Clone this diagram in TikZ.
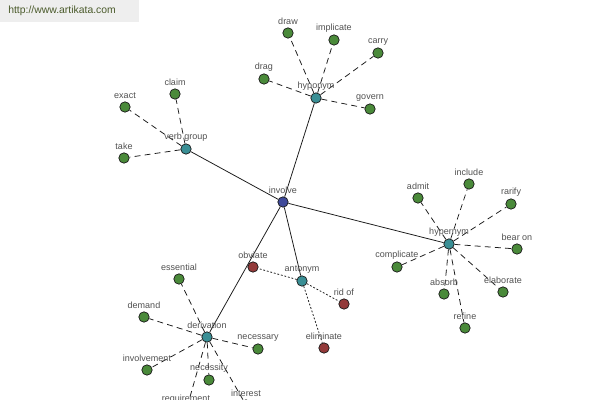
\documentclass[tikz,border=0pt]{standalone}
\usepackage{fontspec}
\setmainfont{Liberation Sans}
\usetikzlibrary{backgrounds}
\definecolor{ink}{HTML}{1A1A1A}
\definecolor{labelgray}{HTML}{505050}
\definecolor{hubblue}{HTML}{3F4A9A}
\definecolor{relteal}{HTML}{3A8F95}
\definecolor{leafgreen}{HTML}{4A8A3A}
\definecolor{antired}{HTML}{933A3A}
\definecolor{olive}{HTML}{4A5A2A}
\definecolor{bannerbg}{HTML}{EEEEEE}
\tikzset{
  every node/.style={font=\fontsize{6.4}{7}\selectfont,text=labelgray},
  word/.style={circle,draw=ink,line width=0.5pt,minimum size=0.26cm,inner sep=0pt},
  hub/.style={word,fill=hubblue},
  rel/.style={word,fill=relteal},
  leaf/.style={word,fill=leafgreen},
  anti/.style={word,fill=antired},
  lbl/.style={text=labelgray,inner sep=1.5pt},
  solidedge/.style={draw=ink,line width=0.55pt},
  dashedge/.style={draw=ink,line width=0.55pt,dash pattern=on 4.2pt off 3pt},
  dotedge/.style={draw=ink,line width=0.55pt,dash pattern=on 1.3pt off 1.3pt}
}
\begin{document}
\begin{tikzpicture}[x=0.025cm,y=-0.025cm]
  \useasboundingbox (0,0) rectangle (600,400);
  \clip (0,0) rectangle (600,400);
  % banner
  \fill[bannerbg] (0,0) rectangle (139,22);
  \node[anchor=west,text=olive,font=\fontsize{7.4}{8}\selectfont,inner sep=0pt] (site) at (8,11) {http://www.artikata.com};

  % centre and relations
  \node[hub,label={[lbl]above:involve}] (involve) at (283,202) {};
  \node[rel,label={[lbl]above:verb group}] (verbgroup) at (186,149) {};
  \node[rel,label={[lbl]above:hyponym}] (hyponym) at (316,98) {};
  \node[rel,label={[lbl]above:hypernym}] (hypernym) at (449,244) {};
  \node[rel,label={[lbl]above:antonym}] (antonym) at (302,281) {};
  \node[rel,label={[lbl]above:derivation}] (derivation) at (207,337) {};

  % verb group
  \node[leaf,label={[lbl]above:claim}] (claim) at (175,94) {};
  \node[leaf,label={[lbl]above:exact}] (exact) at (125,107) {};
  \node[leaf,label={[lbl]above:take}] (take) at (124,158) {};

  % hyponym
  \node[leaf,label={[lbl]above:draw}] (drawn) at (288,33) {};
  \node[leaf,label={[lbl]above:implicate}] (implicate) at (334,40) {};
  \node[leaf,label={[lbl]above:carry}] (carry) at (378,53) {};
  \node[leaf,label={[lbl]above:drag}] (drag) at (264,79) {};
  \node[leaf,label={[lbl]above:govern}] (govern) at (370,109) {};

  % hypernym
  \node[leaf,label={[lbl]above:admit}] (admit) at (418,198) {};
  \node[leaf,label={[lbl]above:include}] (include) at (469,184) {};
  \node[leaf,label={[lbl]above:rarify}] (rarify) at (511,204) {};
  \node[leaf,label={[lbl]above:bear on}] (bearon) at (517,249) {};
  \node[leaf,label={[lbl]above:elaborate}] (elaborate) at (503,292) {};
  \node[leaf,label={[lbl]above:refine}] (refine) at (465,328) {};
  \node[leaf,label={[lbl]above:absorb}] (absorb) at (444,294) {};
  \node[leaf,label={[lbl]above:complicate}] (complicate) at (397,267) {};

  % antonym
  \node[anti,label={[lbl]above:obviate}] (obviate) at (253,267) {};
  \node[anti,label={[lbl]above:rid of}] (ridof) at (344,304) {};
  \node[anti,label={[lbl]above:eliminate}] (eliminate) at (324,348) {};

  % derivation
  \node[leaf,label={[lbl]above:essential}] (essential) at (179,279) {};
  \node[leaf,label={[lbl]above:demand}] (demand) at (144,317) {};
  \node[leaf,label={[lbl]above:necessary}] (necessary) at (258,349) {};
  \node[leaf,label={[lbl]above:involvement}] (involvement) at (147,370) {};
  \node[leaf,label={[lbl]above:necessity}] (necessity) at (209,380) {};
  \node[leaf,label={[lbl]above:requirement}] (requirement) at (186,411) {};
  \node[leaf,label={[lbl]above:interest}] (interest) at (246,405) {};

  \begin{scope}[on background layer]
    \draw[solidedge] (involve)--(verbgroup);
    \draw[solidedge] (involve)--(hyponym);
    \draw[solidedge] (involve)--(hypernym);
    \draw[solidedge] (involve)--(antonym);
    \draw[solidedge] (involve)--(derivation);

    \draw[dashedge] (verbgroup)--(claim);
    \draw[dashedge] (verbgroup)--(exact);
    \draw[dashedge] (verbgroup)--(take);

    \draw[dashedge] (hyponym)--(drawn);
    \draw[dashedge] (hyponym)--(implicate);
    \draw[dashedge] (hyponym)--(carry);
    \draw[dashedge] (hyponym)--(drag);
    \draw[dashedge] (hyponym)--(govern);

    \draw[dashedge] (hypernym)--(admit);
    \draw[dashedge] (hypernym)--(include);
    \draw[dashedge] (hypernym)--(rarify);
    \draw[dashedge] (hypernym)--(bearon);
    \draw[dashedge] (hypernym)--(elaborate);
    \draw[dashedge] (hypernym)--(refine);
    \draw[dashedge] (hypernym)--(absorb);
    \draw[dashedge] (hypernym)--(complicate);

    \draw[dotedge] (antonym)--(obviate);
    \draw[dotedge] (antonym)--(ridof);
    \draw[dotedge] (antonym)--(eliminate);

    \draw[dashedge] (derivation)--(essential);
    \draw[dashedge] (derivation)--(demand);
    \draw[dashedge] (derivation)--(necessary);
    \draw[dashedge] (derivation)--(involvement);
    \draw[dashedge] (derivation)--(necessity);
    \draw[dashedge] (derivation)--(requirement);
    \draw[dashedge] (derivation)--(interest);
  \end{scope}
\end{tikzpicture}
\end{document}
